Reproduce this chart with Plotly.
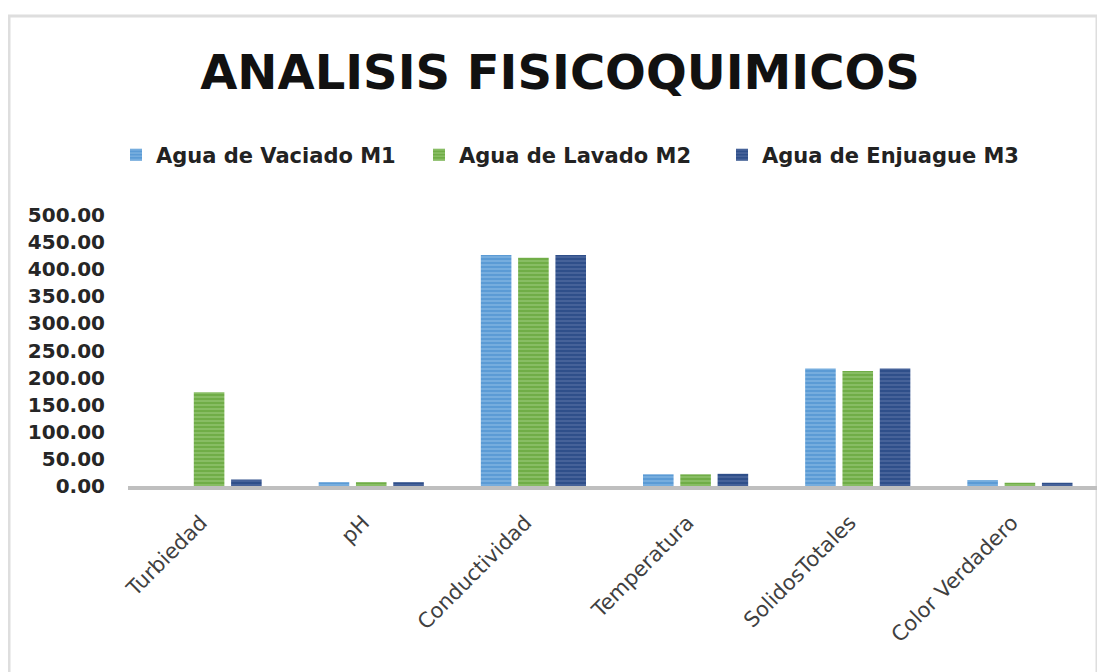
import plotly.graph_objects as go

categories = ["Turbiedad", "pH", "Conductividad", "Temperatura", "SolidosTotales", "Color Verdadero"]
series_names = ["Agua de Vaciado M1", "Agua de Lavado M2", "Agua de Enjuague M3"]
m1_values = [0.0, 7.0, 426.0, 21.5, 217.0, 11.0]
m2_values = [173.0, 7.0, 421.0, 21.5, 212.0, 6.0]
m3_values = [12.0, 7.0, 426.0, 22.5, 217.0, 6.0]
y_ticks = [0, 50, 100, 150, 200, 250, 300, 350, 400, 450, 500]

colors = ["#5b9bd5", "#70ad47", "#2f4f8a"]
stripe = ["#a9cdee", "#b3d99a", "#6f86b5"]

fig = go.Figure()
for name, vals, c, s in zip(series_names, [m1_values, m2_values, m3_values], colors, stripe):
    fig.add_trace(go.Bar(
        x=categories, y=vals, name="<b>" + name + "</b>",
        marker=dict(color=c, line=dict(width=0),
                    pattern=dict(shape="-", fillmode="overlay", fgcolor=s,
                                 size=4, solidity=0.35)),
    ))

OFF = 8  # page body margin
W, H = 1105, 672
L, R, T, B = 128 - OFF, 20 - OFF, 215 - OFF, 186 + OFF
pw, ph = W - L - R, H - T - B

def px(x):
    return (x - OFF - L) / pw

def py(y):
    return (H - B - (y - OFF)) / ph

FONT = "DejaVu Sans"

fig.update_layout(
    width=W, height=H,
    margin=dict(l=L, r=R, t=T, b=B),
    paper_bgcolor="white", plot_bgcolor="white",
    barmode="group", bargap=0.31, bargroupgap=0.18,
    font=dict(family=FONT, color="#404040"),
    title=dict(text="<b>ANALISIS FISICOQUIMICOS</b>", x=(560 - OFF) / W, xanchor="center",
               y=1 - (72 - OFF) / H, yanchor="middle", yref="container",
               font=dict(family=FONT, size=48, color="#111111")),
    legend=dict(orientation="h", x=px(116), xanchor="left", y=py(155), yanchor="middle",
                font=dict(family=FONT, size=21, color="#222222"),
                itemwidth=30, traceorder="normal", entrywidth=258, entrywidthmode="pixels"),
    shapes=[dict(type="rect", xref="paper", yref="paper",
                 x0=px(9), x1=px(1097), y0=py(700), y1=py(16),
                 line=dict(color="#dedede", width=3), fillcolor="rgba(0,0,0,0)", layer="below")],
)
fig.update_xaxes(showgrid=False, showline=True, linecolor="#bfbfbf", linewidth=4,
                 tickangle=-45, tickfont=dict(size=21, color="#404040", family=FONT),
                 ticks="", ticklabelstandoff=12, ticklabelshift=-8)
fig.update_yaxes(range=[0, 500], tickvals=y_ticks, tickformat=".2f", showgrid=False,
                 zeroline=False, showline=False,
                 tickfont=dict(size=20, color="#262626", family=FONT, weight="bold"),
                 ticklabelstandoff=22)

fig.write_html("out.html")
